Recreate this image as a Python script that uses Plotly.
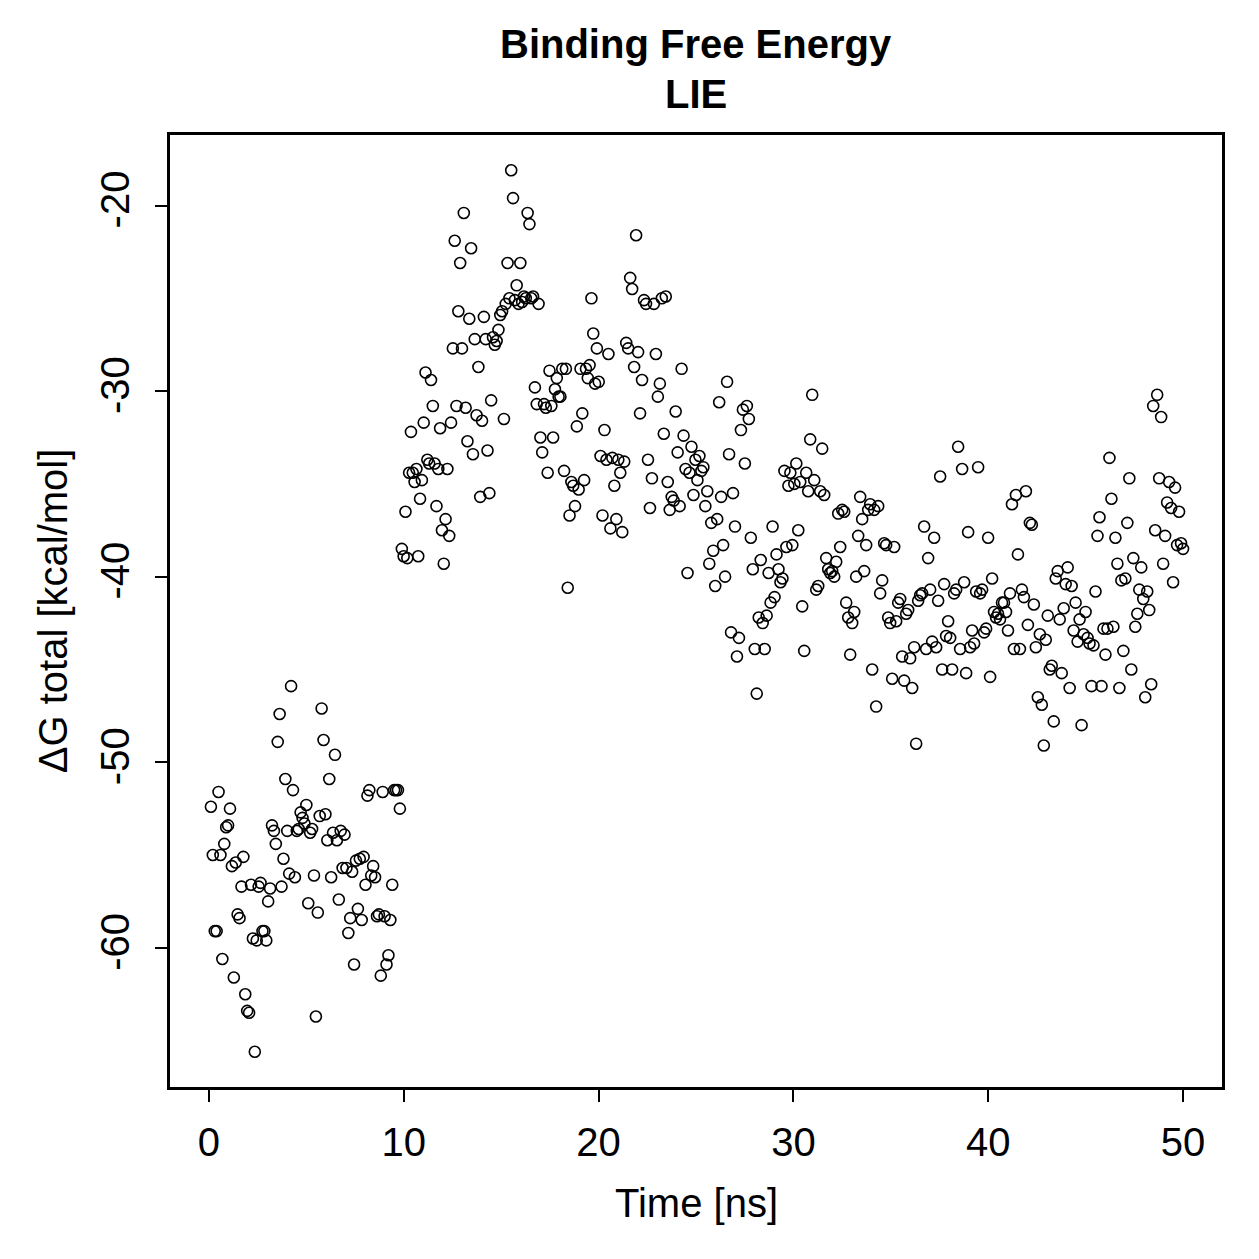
import numpy as np
import plotly.graph_objects as go

# ΔG total [kcal/mol], grouped by ~10 ns blocks
dg_0_10 = [-52.4, -55, -59.1, -59.1, -51.6, -55, -60.6, -54.4, -53.5, -53.4,
           -52.5, -55.6, -61.6, -55.4, -58.2, -58.4, -56.7, -55.1, -62.5, -63.4,
           -63.5, -56.6, -59.5, -65.6, -59.6, -56.7, -56.5, -59.1, -59.1, -59.6,
           -57.5, -56.8, -53.4, -53.7, -54.4, -48.9, -47.4, -56.7, -55.2, -50.9,
           -53.7, -56, -45.9, -51.5, -56.2, -53.7, -53.6, -52.7, -53, -53.3,
           -52.3, -57.6, -53.8, -53.6, -56.1, -63.7, -58.1, -52.9, -47.1, -48.8,
           -52.8, -54.2, -50.9, -56.2, -53.8, -49.6, -54.2, -57.4, -53.7, -55.7,
           -53.9, -55.7, -59.2, -58.4, -55.9, -60.9, -55.3, -57.9, -55.2, -58.5,
           -55.1, -56.6, -51.8, -51.5, -56.1, -55.6, -56.2, -58.3, -58.2, -61.5,
           -51.6, -58.3, -60.9, -60.4, -58.5, -56.6, -51.5, -51.5, -51.5, -52.5]
dg_10_20 = [-38.5, -38.9, -36.5, -39, -34.4, -32.2, -34.4, -34.9, -34.2, -38.9,
            -35.8, -34.8, -31.7, -29, -33.7, -33.9, -29.4, -30.8, -33.9, -36.2,
            -34.2, -32, -37.5, -39.3, -36.9, -34.2, -37.8, -31.7, -27.7, -21.9,
            -30.8, -25.7, -23.1, -27.7, -20.4, -30.9, -32.7, -26.1, -22.3, -33.4,
            -27.2, -31.3, -28.7, -35.7, -31.6, -26, -27.2, -33.2, -35.5, -30.5,
            -27.1, -27.5, -27.3, -26.7, -25.9, -25.7, -31.5, -25.3, -23.1, -25,
            -18.1, -19.6, -25.1, -24.3, -25.3, -23.1, -25.2, -24.9, -25, -20.4,
            -21, -25, -24.9, -29.8, -30.7, -25.3, -32.5, -33.3, -30.7, -30.9,
            -34.4, -28.9, -30.8, -32.5, -29.9, -29.3, -30.3, -30.3, -28.8, -34.3,
            -28.8, -40.6, -36.7, -34.9, -35.1, -36.2, -31.9, -35.3, -28.8, -31.2,
            -34.8, -28.8, -29.3, -28.6, -25, -26.9, -29.6, -27.7, -29.5, -33.5]
dg_20_30 = [-36.7, -32.1, -33.7, -28, -37.4, -33.6, -35.1, -36.9, -33.7, -34.4,
            -37.6, -33.8, -27.4, -27.7, -23.9, -24.5, -28.7, -21.6, -27.9, -31.2,
            -29.4, -25.1, -25.3, -33.7, -36.3, -34.7, -25.3, -28, -30.3, -29.6,
            -25, -32.3, -24.9, -34.9, -36.4, -35.7, -35.9, -31.1, -33.3, -36.2,
            -28.8, -32.4, -34.2, -39.8, -34.4, -33, -35.6, -33.7, -34.8, -33.5,
            -34.3, -34.1, -36.2, -35.4, -39.3, -37.1, -38.6, -40.5, -36.9, -30.6,
            -35.7, -38.3, -40, -29.5, -33.4, -43, -35.5, -37.3, -44.3, -43.3,
            -32.1, -31, -33.9, -30.8, -31.5, -37.9, -39.6, -43.9, -46.3, -42.2,
            -39.1, -42.5, -43.9, -42.1, -39.8, -41.4, -37.3, -41.1, -38.8, -39.6,
            -40.3, -40.1, -34.3, -38.4, -35.1, -34.4, -38.3, -35, -33.9, -37.5]
dg_30_40 = [-34.9, -41.6, -44, -34.4, -35.4, -32.6, -30.2, -34.8, -40.7, -40.5,
            -35.4, -33.1, -35.6, -39, -39.6, -39.8, -39.7, -40, -39.2, -36.6,
            -38.4, -36.4, -36.5, -41.4, -42.2, -44.2, -42.5, -41.9, -40, -37.8,
            -35.7, -36.9, -39.7, -38.3, -36.4, -36.1, -45, -36.4, -47, -36.2,
            -40.9, -40.2, -38.2, -38.3, -42.2, -42.5, -45.5, -38.4, -42.4, -41.4,
            -41.2, -44.3, -45.6, -42, -41.8, -44.4, -46, -43.8, -49, -41.3,
            -41, -40.9, -37.3, -43.9, -39, -40.7, -43.5, -37.9, -43.8, -41.3,
            -34.6, -45, -40.4, -43.2, -42.4, -43.3, -45, -40.9, -40.7, -33,
            -43.9, -34.2, -40.3, -45.2, -37.6, -43.8, -42.9, -43.6, -40.8, -34.1,
            -40.9, -40.7, -43, -42.8, -37.9, -45.4, -40.1]
dg_40_50 = [-41.9, -42.2, -42, -42.3, -41.4, -41.4, -41.9, -42.9, -40.9, -36.1,
            -43.9, -35.6, -38.8, -43.9, -40.7, -41.1, -35.4, -42.6, -37.1, -37.2,
            -41.5, -43.8, -46.5, -43.1, -46.9, -49.1, -43.4, -42.1, -45, -44.8,
            -47.8, -40.1, -39.7, -42.3, -45.2, -41.7, -40.4, -39.5, -46, -40.5,
            -42.9, -41.4, -43.5, -42.3, -48, -43.1, -41.9, -43.3, -43.6, -45.9,
            -43.7, -40.8, -37.8, -36.8, -45.9, -42.8, -44.2, -42.8, -33.6, -35.8,
            -42.7, -37.9, -39.3, -46, -40.2, -44, -40.1, -37.1, -34.7, -45,
            -39, -42.7, -42, -40.7, -39.5, -41.2, -46.5, -40.8, -41.8, -45.8,
            -30.8, -37.5, -30.2, -34.7, -31.4, -39.3, -37.8, -36, -34.9, -36.3,
            -40.3, -35.2, -38.3, -36.5, -38.2, -38.5]

# time span (ns) covered by each block: (first, last)
block_spans = [(0.1, 9.8), (9.9, 20.1), (20.2, 30.25), (30.35, 40.2), (40.3, 50.0)]
blocks = [dg_0_10, dg_10_20, dg_20_30, dg_30_40, dg_40_50]

time_ns = np.concatenate([np.linspace(a, b, len(v)) for (a, b), v in zip(block_spans, blocks)])
dg_total = np.concatenate([np.array(v, dtype=float) for v in blocks])

x_ticks = [0, 10, 20, 30, 40, 50]
y_ticks = [-60, -50, -40, -30, -20]
y_tick_labels = ["-60", "-50", "-40", "-30", "-20"]

FONT = "Liberation Sans, Arial, sans-serif"
FS = 40

fig = go.Figure()
fig.add_trace(go.Scatter(
    x=time_ns, y=dg_total, mode="markers",
    marker=dict(symbol="circle-open", size=11, color="black", line=dict(width=1.6, color="black")),
    showlegend=False,
))

axis_common = dict(
    showgrid=False, zeroline=False, showline=True, mirror=True,
    linecolor="black", linewidth=2.5,
    ticks="outside", ticklen=12, tickwidth=2, tickcolor="black",
    tickfont=dict(family=FONT, size=FS, color="black"),
)

fig.update_layout(
    width=1259, height=1259,
    margin=dict(l=170, r=37, t=135, b=172),
    paper_bgcolor="white", plot_bgcolor="white",
    xaxis=dict(range=[-2, 52], tickvals=x_ticks, ticklabelstandoff=6, **axis_common),
    yaxis=dict(range=[-67.5, -16.2], tickvals=y_ticks, ticktext=y_tick_labels,
               tickangle=-90, ticklabelstandoff=10, **axis_common),
    annotations=[
        dict(text="<b>Binding Free Energy</b>", x=0.5, y=1.0955, xref="paper", yref="paper",
             xanchor="center", yanchor="middle", showarrow=False,
             font=dict(family=FONT, size=FS, color="black")),
        dict(text="<b>LIE</b>", x=0.5, y=1.043, xref="paper", yref="paper",
             xanchor="center", yanchor="middle", showarrow=False,
             font=dict(family=FONT, size=FS, color="black")),
        dict(text="Time [ns]", x=0.5, y=-0.1218, xref="paper", yref="paper",
             xanchor="center", yanchor="middle", showarrow=False,
             font=dict(family=FONT, size=FS, color="black")),
        dict(text="ΔG total [kcal/mol]", x=-0.111, y=0.5, xref="paper", yref="paper",
             xanchor="center", yanchor="middle", showarrow=False, textangle=-90,
             font=dict(family=FONT, size=FS, color="black")),
    ],
)

fig.write_html("out.html")
